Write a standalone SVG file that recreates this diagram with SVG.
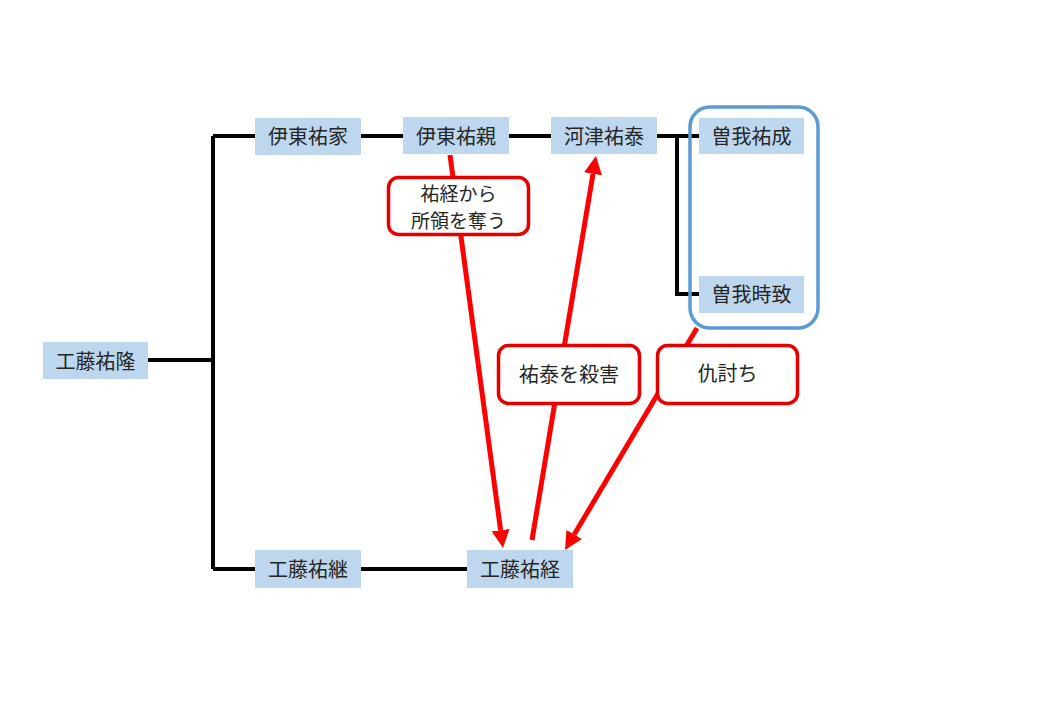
<svg xmlns="http://www.w3.org/2000/svg" width="1040" height="720" viewBox="0 0 1040 720">
<style>
.node rect{fill:#BDD7EE;}
.node text, .callout text{font-family:"Noto Sans CJK JP","Noto Sans",sans-serif;font-size:20px;fill:#262626;text-anchor:middle;dominant-baseline:central;}
.callout text.two{font-size:19px;}
.tree{stroke:#000;stroke-width:4;fill:none;}
.red{stroke:#FF0000;stroke-width:5;fill:none;}
.callout rect{fill:#fff;stroke:#E50000;stroke-width:3.5;}
</style>
<defs>
<marker id="ah" viewBox="0 0 10 10" refX="0" refY="5" markerWidth="18" markerHeight="18" markerUnits="userSpaceOnUse" orient="auto">
<path d="M0,0 L10,5 L0,10 z" fill="#FF0000"/>
</marker>
</defs>
<rect width="1040" height="720" fill="#fff"/>
<g id="connectors">
<path class="tree" d="M148,360 H213 M213,136 V569 M213,136 H255 M361,136 H403 M509,136 H551 M657,136 H699 M677,136 V294 H699 M213,569 H255 M361,569 H467"/>
<line class="red" x1="450" y1="155" x2="500.6" y2="530.2" marker-end="url(#ah)"/>
<line class="red" x1="532" y1="540" x2="593" y2="173.8" marker-end="url(#ah)"/>
<line class="red" x1="697" y1="328" x2="574.2" y2="534.5" marker-end="url(#ah)"/>
</g>
<g id="group-soga"><rect x="690" y="107" width="128" height="221" rx="20" fill="none" stroke="#5B9BD5" stroke-width="3.5"/></g>
<g id="n-suketaka" class="node"><rect x="43" y="342" width="105" height="37"/><text x="95.5" y="360">工藤祐隆</text></g>
<g id="n-sukeie" class="node"><rect x="255" y="118" width="106" height="37"/><text x="308" y="135.5">伊東祐家</text></g>
<g id="n-sukechika" class="node"><rect x="403" y="117" width="106" height="37"/><text x="456" y="135">伊東祐親</text></g>
<g id="n-sukeyasu" class="node"><rect x="551" y="117" width="106" height="37"/><text x="604" y="135">河津祐泰</text></g>
<g id="n-sukenari" class="node"><rect x="699" y="118" width="105" height="36"/><text x="751.5" y="135">曽我祐成</text></g>
<g id="n-tokimune" class="node"><rect x="699" y="276" width="105" height="37"/><text x="751.5" y="293.5">曽我時致</text></g>
<g id="n-suketsugu" class="node"><rect x="255" y="550" width="106" height="38"/><text x="308" y="568.5">工藤祐継</text></g>
<g id="n-suketsune" class="node"><rect x="467" y="550" width="106" height="38"/><text x="520" y="568.5">工藤祐経</text></g>
<g id="c-ryochi" class="callout"><rect x="388.5" y="177.5" width="140" height="57" rx="10"/><text class="two" x="458.5" y="192">祐経から</text><text class="two" x="458.5" y="219">所領を奪う</text></g>
<g id="c-satsugai" class="callout"><rect x="498.5" y="345.5" width="141" height="58" rx="10"/><text x="569" y="373.5">祐泰を殺害</text></g>
<g id="c-adauchi" class="callout"><rect x="657.5" y="345.5" width="140" height="58" rx="10"/><text x="727.5" y="372.5">仇討ち</text></g>
</svg>
